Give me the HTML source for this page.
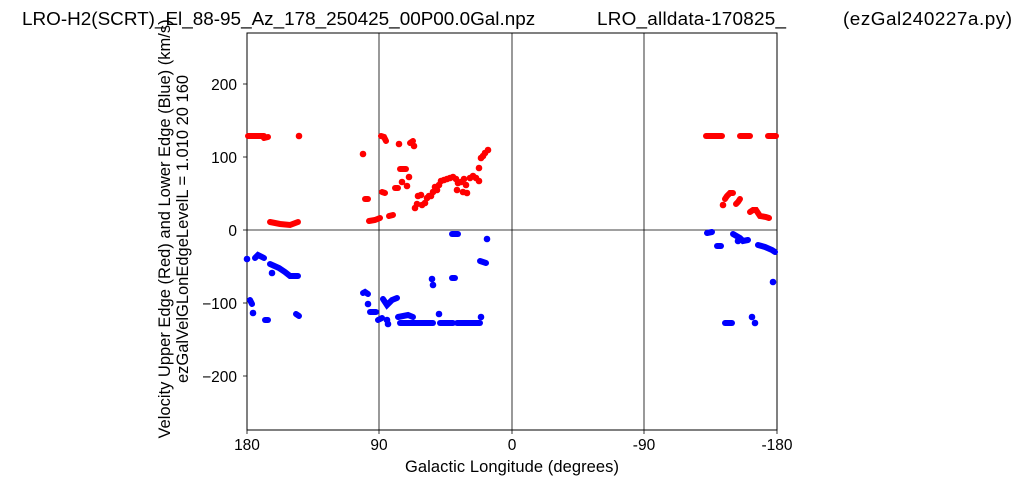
<!DOCTYPE html>
<html><head><meta charset="utf-8"><style>
html,body{margin:0;padding:0;background:#fff;}
svg{display:block;font-family:"Liberation Sans",sans-serif;}
</style></head><body>
<svg width="1024" height="485" viewBox="0 0 1024 485" xmlns="http://www.w3.org/2000/svg">
<text x="22" y="25" font-size="18.9">LRO-H2(SCRT)_El_88-95_Az_178_250425_00P00.0Gal.npz</text>
<text x="597" y="25" font-size="18.9" textLength="189">LRO_alldata-170825_</text>
<text x="843" y="25" font-size="18.9" textLength="169">(ezGal240227a.py)</text>
<g stroke="#000" stroke-width="0.8">
<line x1="379" y1="33" x2="379" y2="430"/>
<line x1="512" y1="33" x2="512" y2="430"/>
<line x1="644" y1="33" x2="644" y2="430"/>
<line x1="247" y1="230" x2="777" y2="230"/>
<line x1="247" y1="84" x2="243" y2="84"/><line x1="247" y1="157" x2="243" y2="157"/><line x1="247" y1="230" x2="243" y2="230"/><line x1="247" y1="303" x2="243" y2="303"/><line x1="247" y1="376" x2="243" y2="376"/>
<line x1="247" y1="430" x2="247" y2="434"/><line x1="379" y1="430" x2="379" y2="434"/><line x1="512" y1="430" x2="512" y2="434"/><line x1="644" y1="430" x2="644" y2="434"/><line x1="777" y1="430" x2="777" y2="434"/>
</g>
<rect x="247" y="33" width="530" height="397" fill="none" stroke="#000" stroke-width="1"/>
<g font-size="15.5" text-anchor="end">
<text x="237" y="90">200</text><text x="237" y="163">100</text><text x="237" y="236">0</text><text x="237" y="309">−100</text><text x="237" y="382">−200</text>
</g>
<g font-size="15.5" text-anchor="middle">
<text x="247" y="450">180</text><text x="379" y="450">90</text><text x="512" y="450">0</text><text x="644" y="450">-90</text><text x="777" y="450">-180</text>
</g>
<text x="512" y="472" font-size="16.5" text-anchor="middle" textLength="214">Galactic Longitude (degrees)</text>
<g font-size="16.5" text-anchor="middle">
<text transform="translate(170,229) rotate(-90)">Velocity Upper Edge (Red) and Lower Edge (Blue)  (km/s)</text>
<text transform="translate(188,229) rotate(-90)">ezGalVelGLonEdgeLevelL = 1.010  20  160</text>
</g>
<g stroke="#f00" stroke-width="6" stroke-linecap="round" fill="#f00">
<line x1="248" y1="136" x2="264" y2="136"/><line x1="264" y1="138" x2="268" y2="137"/>
<polyline fill="none" points="270,222 280,224 290,225 298,222"/>
<line x1="365" y1="199" x2="368" y2="199"/>
<polyline fill="none" points="369,221 375,220 380,218"/>
<line x1="382" y1="192" x2="385" y2="193"/>
<polyline fill="none" points="381,136 384,137 386,141"/>
<line x1="389" y1="216" x2="393" y2="215"/>
<line x1="395" y1="188" x2="398" y2="188"/>
<line x1="400" y1="169" x2="406" y2="169"/>
<line x1="410" y1="143" x2="413" y2="141"/>
<line x1="706" y1="136" x2="722" y2="136"/><line x1="740" y1="136" x2="750" y2="136"/><line x1="768" y1="136" x2="776" y2="136"/>
<polyline fill="none" points="725,199 727,196 730,193 733,193"/>
<polyline fill="none" points="736,204 738,202 740,199"/>
<polyline fill="none" points="750,212 753,210 756,210 760,216 766,217 769,218"/>
</g>
<g fill="#f00">
<circle cx="299" cy="136" r="3.3"/><circle cx="363" cy="154" r="3.3"/><circle cx="399" cy="144" r="3.3"/><circle cx="402" cy="182" r="3.3"/><circle cx="407" cy="186" r="3.3"/><circle cx="409" cy="177" r="3.3"/><circle cx="414" cy="146" r="3.3"/><circle cx="723" cy="205" r="3.3"/>
<circle cx="415" cy="208" r="3.3"/><circle cx="417" cy="204" r="3.3"/><circle cx="418" cy="196" r="3.3"/><circle cx="421" cy="195" r="3.3"/><circle cx="422" cy="205" r="3.3"/><circle cx="425" cy="203" r="3.3"/><circle cx="427" cy="198" r="3.3"/><circle cx="429" cy="196" r="3.3"/><circle cx="431" cy="196" r="3.3"/><circle cx="433" cy="192" r="3.3"/><circle cx="435" cy="187" r="3.3"/><circle cx="437" cy="190" r="3.3"/><circle cx="439" cy="185" r="3.3"/><circle cx="441" cy="181" r="3.3"/><circle cx="444" cy="180" r="3.3"/><circle cx="447" cy="179" r="3.3"/><circle cx="450" cy="178" r="3.3"/><circle cx="453" cy="177" r="3.3"/><circle cx="456" cy="179" r="3.3"/><circle cx="458" cy="183" r="3.3"/><circle cx="461" cy="182" r="3.3"/><circle cx="464" cy="179" r="3.3"/><circle cx="457" cy="190" r="3.3"/><circle cx="466" cy="185" r="3.3"/><circle cx="463" cy="192" r="3.3"/><circle cx="467" cy="193" r="3.3"/>
<circle cx="470" cy="178" r="3.3"/><circle cx="473" cy="176" r="3.3"/><circle cx="476" cy="178" r="3.3"/><circle cx="479" cy="181" r="3.3"/>
<circle cx="479" cy="168" r="3.3"/><circle cx="481" cy="158" r="3.3"/><circle cx="483" cy="156" r="3.3"/><circle cx="485" cy="153" r="3.3"/><circle cx="488" cy="150" r="3.3"/>
</g>
<g stroke="#00f" stroke-width="6" stroke-linecap="round" fill="none">
<polyline points="255,258 258,255 264,258"/>
<line x1="265" y1="320" x2="268" y2="320"/>
<polyline points="270,264 279,268 285,272 290,276 298,276"/>
<line x1="296" y1="314" x2="299" y2="316"/>
<polyline points="250,300 252,304"/>
<polyline points="363,293 365,292 368,294"/>
<line x1="370" y1="312" x2="376" y2="312"/>
<line x1="378" y1="320" x2="382" y2="318"/>
<polyline points="383,299 387,305 392,300 397,298"/>
<line x1="400" y1="323" x2="433" y2="323"/><line x1="440" y1="323" x2="453" y2="323"/><line x1="457" y1="323" x2="480" y2="323"/>
<polyline points="398,317 408,315 413,317"/>
<line x1="452" y1="278" x2="455" y2="278"/>
<line x1="452" y1="234" x2="458" y2="234"/>
<line x1="480" y1="261" x2="486" y2="263"/>
<line x1="707" y1="233" x2="712" y2="232"/>
<line x1="717" y1="246" x2="721" y2="246"/>
<polyline points="733,234 740,238 743,241 748,240"/>
<polyline points="758,245 765,247 772,250 775,252"/>
<line x1="725" y1="323" x2="732" y2="323"/>
</g>
<g fill="#00f">
<circle cx="247" cy="259" r="3.3"/><circle cx="253" cy="313" r="3.3"/><circle cx="272" cy="273" r="3.3"/><circle cx="368" cy="304" r="3.3"/><circle cx="387" cy="320" r="3.3"/><circle cx="388" cy="324" r="3.3"/><circle cx="432" cy="279" r="3.3"/><circle cx="433" cy="285" r="3.3"/><circle cx="439" cy="314" r="3.3"/><circle cx="481" cy="317" r="3.3"/><circle cx="487" cy="239" r="3.3"/><circle cx="738" cy="241" r="3.3"/><circle cx="773" cy="282" r="3.3"/><circle cx="752" cy="317" r="3.3"/><circle cx="755" cy="323" r="3.3"/>
</g>
</svg>
</body></html>
